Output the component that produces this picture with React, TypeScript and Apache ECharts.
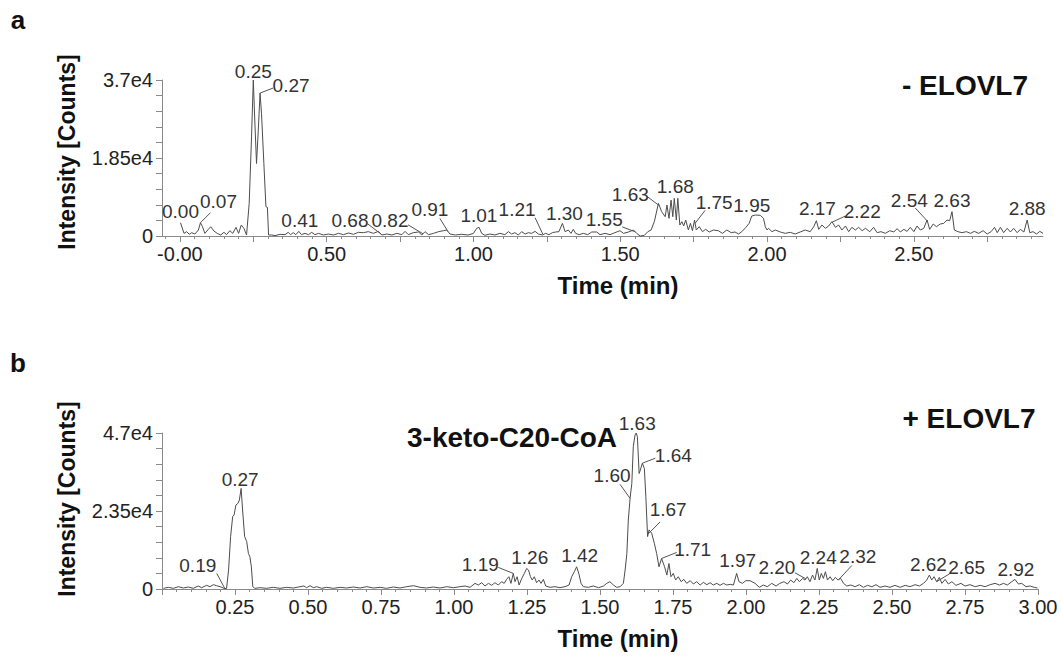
import React, { useEffect, useRef } from "react";
import * as echarts from "echarts";

// ---------- Panel a (- ELOVL7) ----------
const aTime = [
  0.002, 0.014, 0.023, 0.032, 0.04, 0.051, 0.063, 0.07, 0.077, 0.085, 0.097, 0.105, 0.116, 0.127, 0.139, 0.15,
  0.159, 0.17, 0.18, 0.191, 0.2, 0.209, 0.218, 0.227, 0.236, 0.244, 0.25, 0.255, 0.261, 0.267, 0.273, 0.278,
  0.286, 0.293, 0.298, 0.302, 0.313, 0.324, 0.341, 0.358, 0.369, 0.377, 0.386, 0.395, 0.405, 0.414, 0.426, 0.438,
  0.449, 0.46, 0.472, 0.489, 0.506, 0.523, 0.54, 0.557, 0.574, 0.591, 0.608, 0.625, 0.642, 0.659, 0.676, 0.688,
  0.705, 0.722, 0.739, 0.756, 0.767, 0.778, 0.795, 0.813, 0.824, 0.835, 0.847, 0.864, 0.881, 0.898, 0.909, 0.92,
  0.938, 0.96, 0.982, 1.0, 1.011, 1.019, 1.028, 1.039, 1.056, 1.073, 1.09, 1.107, 1.119, 1.13, 1.141, 1.153,
  1.164, 1.176, 1.187, 1.198, 1.21, 1.221, 1.235, 1.246, 1.257, 1.269, 1.28, 1.291, 1.303, 1.312, 1.323, 1.332,
  1.34, 1.348, 1.36, 1.374, 1.389, 1.403, 1.42, 1.431, 1.448, 1.465, 1.482, 1.499, 1.511, 1.528, 1.545, 1.556,
  1.568, 1.582, 1.594, 1.605, 1.616, 1.63, 1.641, 1.653, 1.659, 1.666, 1.673, 1.679, 1.684, 1.691, 1.696, 1.703,
  1.71, 1.716, 1.723, 1.732, 1.739, 1.746, 1.753, 1.759, 1.769, 1.78, 1.791, 1.803, 1.817, 1.834, 1.848, 1.863,
  1.878, 1.891, 1.903, 1.914, 1.928, 1.939, 1.948, 1.96, 1.977, 1.988, 1.994, 2.0, 2.005, 2.017, 2.028, 2.045,
  2.062, 2.079, 2.096, 2.113, 2.13, 2.147, 2.159, 2.168, 2.176, 2.187, 2.199, 2.21, 2.221, 2.233, 2.244, 2.255,
  2.267, 2.278, 2.289, 2.301, 2.312, 2.324, 2.335, 2.35, 2.363, 2.375, 2.388, 2.403, 2.418, 2.432, 2.443, 2.454,
  2.466, 2.477, 2.488, 2.5, 2.511, 2.522, 2.534, 2.545, 2.554, 2.566, 2.577, 2.59, 2.602, 2.613, 2.622, 2.63,
  2.638, 2.65, 2.664, 2.679, 2.693, 2.706, 2.721, 2.736, 2.75, 2.763, 2.775, 2.784, 2.795, 2.806, 2.818, 2.829,
  2.84, 2.852, 2.863, 2.875, 2.886, 2.895, 2.906, 2.918, 2.929, 2.94,
];
const aIntensity = [
  3160, 630, 1030, 400, 790, 470, 1420, 3160, 2200, 630, 1580, 2200, 1180, 630, 240, 870,
  320, 1260, 630, 2050, 630, 2600, 1820, 240, 7740, 23500, 37000, 27500, 17200, 25100, 33900, 29000,
  17200, 6950, 6800, 240, 240, 80, 400, 320, 870, 320, 790, 320, 1100, 320, 630, 320,
  870, 320, 630, 240, 470, 240, 630, 320, 710, 400, 870, 790, 1030, 630, 1100, 240,
  470, 240, 630, 320, 1100, 320, 790, 950, 240, 1030, 320, 630, 1030, 1260, 1420, 470,
  240, 400, 240, 630, 1820, 2050, 630, 160, 470, 240, 630, 320, 1030, 470, 790, 240,
  1030, 470, 790, 630, 1100, 470, 240, 630, 320, 790, 950, 1030, 3000, 1030, 1420, 630,
  1580, 630, 320, 630, 320, 950, 950, 320, 630, 320, 790, 1260, 630, 950, 1420, 630,
  0, 160, 1030, 1420, 3400, 7740, 5770, 4580, 7350, 4190, 8530, 4580, 8930, 3790, 8930, 2600,
  3400, 2370, 3790, 1420, 3000, 1260, 3790, 1420, 2210, 1030, 1580, 950, 1420, 1260, 630, 1420,
  790, 950, 470, 1030, 2050, 3000, 4740, 4980, 4900, 4190, 2210, 1420, 1820, 1030, 1420, 950,
  630, 870, 470, 950, 1420, 1030, 2210, 3630, 1580, 2600, 1820, 2370, 3400, 2050, 2600, 1420,
  2370, 1030, 2050, 1420, 2050, 1260, 1820, 1030, 2050, 790, 1030, 630, 1260, 950, 1740, 950,
  1580, 1100, 2050, 1030, 2370, 1420, 1820, 3790, 1580, 2840, 2210, 2840, 3000, 3790, 3630, 5770,
  1420, 1030, 790, 1030, 630, 1100, 630, 1260, 470, 1030, 2050, 790, 2050, 790, 1820, 950,
  1820, 790, 1580, 950, 3790, 790, 1030, 470, 1100, 630,
];
const aPeakLabels = ["0.00", "0.07", "0.25", "0.27", "0.41", "0.68", "0.82", "0.91", "1.01", "1.21", "1.30",
  "1.55", "1.63", "1.68", "1.75", "1.95", "2.17", "2.22", "2.54", "2.63", "2.88"];
const aPeakTimes = [0.002, 0.07, 0.25, 0.273, 0.405, 0.685, 0.828, 0.913, 1.015, 1.237, 1.303,
  1.551, 1.633, 1.684, 1.755, 1.948, 2.168, 2.222, 2.546, 2.63, 2.886];
const aXTickLabels = ["-0.00", "0.50", "1.00", "1.50", "2.00", "2.50"];
const aXTickValues = [0, 0.5, 1, 1.5, 2, 2.5];
const aYTickLabels = ["0", "1.85e4", "3.7e4"];
const aYTickValues = [0, 18500, 37000];

// ---------- Panel b (+ ELOVL7) ----------
const bTime = [
  0.005, 0.022, 0.039, 0.056, 0.073, 0.09, 0.107, 0.124, 0.136, 0.153, 0.164, 0.176, 0.187, 0.199, 0.212, 0.221,
  0.228, 0.235, 0.242, 0.247, 0.253, 0.26, 0.265, 0.271, 0.276, 0.283, 0.29, 0.296, 0.301, 0.306, 0.311, 0.318,
  0.336, 0.358, 0.381, 0.404, 0.427, 0.45, 0.473, 0.486, 0.495, 0.507, 0.518, 0.53, 0.547, 0.564, 0.587, 0.61,
  0.632, 0.655, 0.678, 0.701, 0.724, 0.747, 0.769, 0.792, 0.815, 0.838, 0.861, 0.884, 0.906, 0.929, 0.952, 0.975,
  0.998, 1.021, 1.038, 1.055, 1.072, 1.083, 1.095, 1.106, 1.118, 1.129, 1.14, 1.152, 1.163, 1.172, 1.18, 1.188,
  1.195, 1.203, 1.209, 1.216, 1.223, 1.232, 1.241, 1.249, 1.255, 1.262, 1.268, 1.275, 1.283, 1.291, 1.298, 1.306,
  1.314, 1.329, 1.346, 1.363, 1.38, 1.394, 1.403, 1.412, 1.42, 1.428, 1.435, 1.443, 1.46, 1.477, 1.495, 1.512,
  1.523, 1.534, 1.546, 1.557, 1.569, 1.58, 1.586, 1.592, 1.597, 1.603, 1.609, 1.614, 1.62, 1.624, 1.628, 1.634,
  1.638, 1.645, 1.652, 1.657, 1.663, 1.668, 1.677, 1.686, 1.694, 1.702, 1.711, 1.721, 1.729, 1.736, 1.743, 1.751,
  1.759, 1.768, 1.778, 1.787, 1.797, 1.809, 1.82, 1.831, 1.843, 1.854, 1.866, 1.877, 1.888, 1.9, 1.911, 1.923,
  1.934, 1.946, 1.957, 1.968, 1.976, 1.988, 1.999, 2.014, 2.031, 2.046, 2.059, 2.073, 2.088, 2.103, 2.116, 2.13,
  2.142, 2.153, 2.164, 2.174, 2.183, 2.194, 2.202, 2.21, 2.219, 2.228, 2.236, 2.244, 2.251, 2.258, 2.265, 2.272,
  2.279, 2.288, 2.297, 2.306, 2.315, 2.324, 2.334, 2.345, 2.359, 2.374, 2.388, 2.402, 2.416, 2.431, 2.445, 2.459,
  2.476, 2.493, 2.51, 2.528, 2.545, 2.562, 2.579, 2.594, 2.608, 2.619, 2.628, 2.636, 2.644, 2.653, 2.662, 2.671,
  2.682, 2.693, 2.705, 2.719, 2.736, 2.75, 2.767, 2.785, 2.802, 2.819, 2.836, 2.853, 2.868, 2.882, 2.895, 2.91,
  2.921, 2.933, 2.944, 2.959, 2.973, 2.987, 2.998,
];
const bIntensity = [
  200, 500, 200, 700, 300, 600, 200, 900, 400, 1100, 700, 1300, 1000, 700, 200, 100,
  5700, 15800, 21800, 22300, 25300, 25800, 26800, 30300, 23800, 15800, 14300, 10700, 9700, 6700, 700, 200,
  400, 200, 500, 200, 500, 300, 700, 900, 400, 1000, 400, 700, 200, 500, 200, 500,
  300, 600, 300, 700, 300, 500, 200, 600, 300, 700, 1000, 500, 300, 600, 300, 700,
  400, 700, 900, 500, 1700, 1200, 1900, 900, 1700, 1100, 1900, 1200, 2200, 1700, 2900, 3700,
  1700, 4700, 2200, 3700, 1200, 3200, 4700, 6200, 5700, 3700, 2700, 3700, 1900, 2700, 1700, 2900,
  900, 500, 700, 400, 700, 1200, 3700, 5200, 6700, 4500, 1700, 700, 500, 900, 400, 900,
  1700, 2200, 1200, 500, 700, 1700, 5700, 10700, 20800, 27300, 31800, 42900, 46400, 47000, 45900, 34800,
  35800, 37900, 36300, 27800, 15800, 17800, 16800, 13800, 10700, 6700, 9200, 6700, 4200, 7700, 3700, 4700,
  2700, 3700, 2200, 2900, 1700, 2500, 1500, 2200, 1200, 2000, 1300, 1900, 1200, 1700, 1100, 1700,
  1200, 1400, 1200, 4700, 2200, 1700, 2500, 2500, 1700, 500, 1200, 700, 1700, 900, 1700, 2200,
  1500, 2700, 1900, 3200, 2200, 3200, 2700, 3700, 2200, 4200, 2700, 6200, 2700, 4700, 3200, 5200,
  2700, 3700, 2500, 3500, 2700, 3200, 1700, 900, 1200, 700, 1300, 500, 1100, 700, 1300, 500,
  900, 500, 1100, 500, 1100, 700, 1300, 900, 1700, 2700, 4200, 2700, 3700, 2200, 3500, 1700,
  2900, 1500, 2200, 1100, 1700, 900, 1300, 700, 1100, 700, 1300, 1700, 1200, 1700, 1200, 2200,
  2900, 1500, 1700, 700, 900, 500, 300,
];
const bPeakLabels = ["0.19", "0.27", "1.19", "1.26", "1.42", "1.60", "1.63", "1.64", "1.67", "1.71", "1.97",
  "2.20", "2.24", "2.32", "2.62", "2.65", "2.92"];
const bPeakTimes = [0.215, 0.271, 1.203, 1.249, 1.42, 1.603, 1.624, 1.645, 1.665, 1.711, 1.968,
  2.205, 2.244, 2.318, 2.628, 2.653, 2.921];
const bXTickLabels = ["0.25", "0.50", "0.75", "1.00", "1.25", "1.50", "1.75", "2.00", "2.25", "2.50", "2.75", "3.00"];
const bXTickValues = [0.25, 0.5, 0.75, 1, 1.25, 1.5, 1.75, 2, 2.25, 2.5, 2.75, 3];
const bYTickLabels = ["0", "2.35e4", "4.7e4"];
const bYTickValues = [0, 23500, 47000];

// ---------- label placement (pixel offsets from the anchored peak) ----------
const aLabelOffsets = [[0, -11], [18, -21], [0, -9], [31, -8], [1, -11], [-31, -14], [-33, -13], [-18, -22],
  [1, -12], [-26, -25], [2, -10], [-31, -12], [-29, -11], [1, -12], [19, -21], [0, -11], [1, -12], [30, -11],
  [-18, -21], [0, -11], [0, -12]];
const aLeaderEnds: (number[] | null)[] = [null, [10, -10], null, [13, -5], null, [-13, -10], [-15, -9], [-8, -13],
  null, [-8, -17], null, [-13, -5], [-12, -9], null, [10, -13], null, null, [13, -6], [-12, -13], null, null];
const bLabelOffsets = [[-27, -23], [-1, -9], [-33, -9], [3, -11], [3, -11], [-18, -23], [1, -10], [31, -8],
  [20, -24], [31, -9], [1, -13], [-29, -11], [1, -11], [19, -23], [-1, -11], [30, -14], [1, -10]];
const bLeaderEnds: (number[] | null)[] = [[-8, -15], null, [-15, -6], null, null, [-10, -14], null, [13, -5],
  [12, -12], [15, -6], null, [-11, -6], null, [13, -14], null, [13, -8], null];

const FONT = '"Liberation Sans", Arial, Helvetica, sans-serif';
const AXIS_COLOR = "#8a8a8a";
const TRACE_COLOR = "#4d4d4d";
const TEXT_COLOR = "#222";

function interp(ts: number[], vs: number[], t: number): number {
  if (t <= ts[0]) return vs[0];
  for (let i = 1; i < ts.length; i++) {
    if (t <= ts[i]) {
      const f = (t - ts[i - 1]) / (ts[i] - ts[i - 1]);
      return vs[i - 1] + f * (vs[i] - vs[i - 1]);
    }
  }
  return vs[vs.length - 1];
}

function steps(from: number, to: number, step: number): number[] {
  const out: number[] = [];
  const n = Math.round((to - from) / step);
  for (let i = 0; i <= n; i++) out.push(Math.round((from + i * step) * 1000) / 1000);
  return out;
}

function pickLabel(values: number[], texts: string[], v: number): string {
  for (let i = 0; i < values.length; i++) {
    if (Math.abs(values[i] - v) < 1e-6 * Math.max(1, Math.abs(values[i]))) return texts[i];
  }
  return "";
}

function labelSeries(
  xIdx: number, yIdx: number, times: number[], values: number[], labels: string[], anchors: number[],
  offsets: number[][], leaders: (number[] | null)[]
) {
  const data = anchors.map((t, i) => [t, interp(times, values, t), i]);
  return {
    type: "custom",
    xAxisIndex: xIdx,
    yAxisIndex: yIdx,
    clip: false,
    silent: true,
    z: 5,
    encode: { x: 0, y: 1 },
    data,
    renderItem: (_params: any, api: any) => {
      const i = api.value(2);
      const p = api.coord([api.value(0), api.value(1)]);
      const off = offsets[i];
      const le = leaders[i];
      const children: any[] = [];
      if (le) {
        children.push({
          type: "line",
          shape: { x1: p[0], y1: p[1], x2: p[0] + le[0], y2: p[1] + le[1] },
          style: { stroke: "#555", lineWidth: 1 },
        });
      }
      children.push({
        type: "text",
        x: p[0] + off[0],
        y: p[1] + off[1],
        style: {
          text: labels[i],
          fill: "#333",
          fontSize: 19,
          fontFamily: FONT,
          align: "center",
          verticalAlign: "middle",
        },
      });
      return { type: "group", children };
    },
  };
}

function mainXAxis(gridIndex: number, min: number, max: number, majors: number[], labVals: number[], labTexts: string[]) {
  return {
    type: "value",
    gridIndex,
    min,
    max,
    splitLine: { show: false },
    axisLine: { show: true, onZero: false, lineStyle: { color: AXIS_COLOR, width: 1 } },
    axisTick: { show: true, customValues: majors, length: 6, lineStyle: { color: AXIS_COLOR } },
    axisLabel: {
      show: true,
      customValues: labVals,
      formatter: (v: number) => pickLabel(labVals, labTexts, v),
      color: TEXT_COLOR,
      fontSize: 20,
      fontFamily: FONT,
      margin: 8,
    },
  };
}

function minorXAxis(gridIndex: number, min: number, max: number, minors: number[]) {
  return {
    type: "value",
    gridIndex,
    min,
    max,
    splitLine: { show: false },
    axisLine: { show: false, onZero: false },
    axisTick: { show: true, customValues: minors, length: 3, lineStyle: { color: AXIS_COLOR } },
    axisLabel: { show: false },
  };
}

function mainYAxis(gridIndex: number, max: number, interval: number, labVals: number[], labTexts: string[]) {
  return {
    type: "value",
    gridIndex,
    min: 0,
    max,
    interval,
    splitLine: { show: false },
    axisLine: { show: true, onZero: false, lineStyle: { color: AXIS_COLOR, width: 1 } },
    axisTick: { show: true, length: 6, lineStyle: { color: AXIS_COLOR } },
    axisLabel: {
      formatter: (v: number) => pickLabel(labVals, labTexts, v),
      color: TEXT_COLOR,
      fontSize: 20,
      fontFamily: FONT,
      margin: 9,
    },
  };
}

function hiddenYAxis(gridIndex: number) {
  return { type: "value", gridIndex, min: 0, max: 1, show: false, axisLine: { onZero: false } };
}

function boldText(text: string, x: number, y: number, size: number, rotation = 0) {
  return {
    type: "text",
    x,
    y,
    rotation,
    silent: true,
    style: {
      text,
      fill: "#111",
      fontSize: size,
      fontWeight: "bold",
      fontFamily: FONT,
      align: "center",
      verticalAlign: "middle",
    },
  };
}

function buildOption() {
  const gridA = { left: 162, top: 80, width: 881, height: 156 };
  const gridB = { left: 162, top: 433, width: 876, height: 156 };
  const aMin = -0.061, aMax = 2.94, bMin = 0, bMax = 3.0;
  return {
    animation: false,
    backgroundColor: "#ffffff",
    grid: [gridA, gridB, gridA, gridB],
    xAxis: [
      mainXAxis(0, aMin, aMax, steps(0, 2.75, 0.25), aXTickValues, aXTickLabels),
      mainXAxis(1, bMin, bMax, steps(0, 3, 0.25), bXTickValues, bXTickLabels),
      minorXAxis(2, aMin, aMax, steps(-0.05, 2.9, 0.05)),
      minorXAxis(3, bMin, bMax, steps(0, 3, 0.05)),
    ],
    yAxis: [
      mainYAxis(0, 37000, 3700, aYTickValues, aYTickLabels),
      mainYAxis(1, 47000, 4700, bYTickValues, bYTickLabels),
      hiddenYAxis(2),
      hiddenYAxis(3),
    ],
    series: [
      {
        type: "line",
        xAxisIndex: 0,
        yAxisIndex: 0,
        data: aTime.map((t, i) => [t, aIntensity[i]]),
        showSymbol: false,
        symbol: "none",
        clip: false,
        lineStyle: { color: TRACE_COLOR, width: 1 },
        silent: true,
      },
      {
        type: "line",
        xAxisIndex: 1,
        yAxisIndex: 1,
        data: bTime.map((t, i) => [t, bIntensity[i]]),
        showSymbol: false,
        symbol: "none",
        clip: false,
        lineStyle: { color: TRACE_COLOR, width: 1 },
        silent: true,
      },
      labelSeries(0, 0, aTime, aIntensity, aPeakLabels, aPeakTimes, aLabelOffsets, aLeaderEnds),
      labelSeries(1, 1, bTime, bIntensity, bPeakLabels, bPeakTimes, bLabelOffsets, bLeaderEnds),
    ],
    graphic: [
      boldText("a", 18, 20, 26),
      boldText("b", 18, 363, 26),
      boldText("- ELOVL7", 965, 85, 28),
      boldText("+ ELOVL7", 969, 418, 28),
      boldText("3-keto-C20-CoA", 512, 437, 28),
      boldText("Intensity [Counts]", 67, 152, 23, Math.PI / 2),
      boldText("Intensity [Counts]", 67, 499, 23, Math.PI / 2),
      boldText("Time (min)", 618, 285, 24),
      boldText("Time (min)", 618, 638, 24),
    ],
  };
}

export default function App() {
  const ref = useRef<HTMLDivElement>(null);
  useEffect(() => {
    document.body.style.margin = "0";
    const chart = echarts.init(ref.current!, null, { renderer: "svg" });
    chart.setOption(buildOption() as any);
    return () => chart.dispose();
  }, []);
  return <div ref={ref} style={{ width: 1061, height: 660, position: "absolute", left: 0, top: 0 }} />;
}
